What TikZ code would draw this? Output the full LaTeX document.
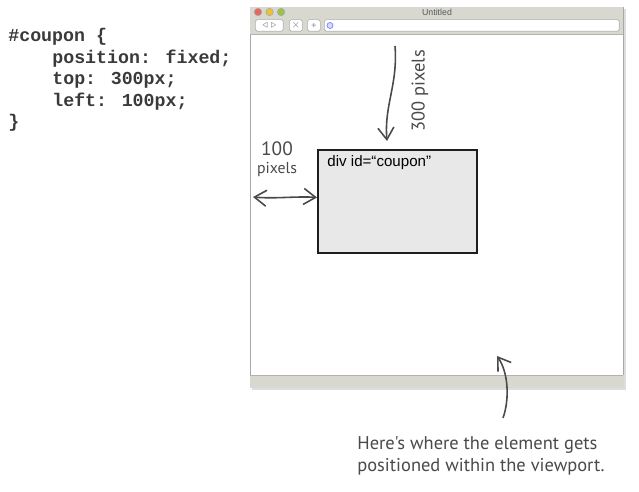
\documentclass[tikz,border=0pt]{standalone}
\usepackage{fontspec}
\setmainfont{Liberation Sans}
\newfontfamily\codefont{Liberation Mono}
\newfontfamily\handfont{PT Sans}
\usepackage{tikz}
\usetikzlibrary{positioning,arrows.meta,calc}
\definecolor{codeCol}{HTML}{3A3A3A}
\definecolor{handCol}{HTML}{4A4A4A}
\definecolor{barFill}{HTML}{D8D8D0}
\definecolor{barDraw}{HTML}{B4B4AC}
\definecolor{winDraw}{HTML}{A8A8A8}
\definecolor{shadowCol}{HTML}{DDDDDD}
\definecolor{boxFill}{HTML}{E8E8E8}
\definecolor{boxDraw}{HTML}{1E1E1E}
\definecolor{btnDraw}{HTML}{B0B0B0}
\definecolor{lightRed}{HTML}{E8675C}
\definecolor{lightYel}{HTML}{E8C33A}
\definecolor{lightGrn}{HTML}{9CC24A}

\begin{document}
\begin{tikzpicture}[
  x=0.02cm, y=-0.02cm,
  codeline/.style={anchor=base west, inner sep=0pt, text=codeCol,
                   font=\codefont\bfseries\fontsize{10.4pt}{12pt}\selectfont},
  hand/.style={text=handCol, inner sep=0pt, font=\handfont\fontsize{#1}{#1}\selectfont},
  handarr/.style={-{Straight Barb[length=2.4mm,width=3.2mm]}, line width=0.9pt, draw=handCol},
  couponbox/.style={draw=boxDraw, line width=1.1pt, fill=boxFill,
                    minimum width=3.18cm, minimum height=2.06cm, inner sep=0pt},
  btn/.style={draw=btnDraw, line width=0.4pt, fill=white, rounded corners=1pt},
  light/.style={draw=gray!70, line width=0.3pt, fill=#1},
]
\useasboundingbox[fill=white] (0,0) rectangle (639,492);

% ---- CSS code (left) ----
\node[codeline] (css1) at (8,42)    {\#coupon \{};
\node[codeline] (css2) at (52,63.5) {position: fixed;};
\node[codeline] (css3) at (52,85)   {top: 300px;};
\node[codeline] (css4) at (52,106.5){left: 100px;};
\node[codeline] (css5) at (8,128)   {\}};

% ---- Browser window ----
\fill[shadowCol] (252,9) rectangle (626,390);
\node[draw=winDraw, fill=white, line width=0.5pt, anchor=north west, inner sep=0pt,
      minimum width=7.46cm, minimum height=7.6cm] (win) at (250,7) {};
\fill[barFill] (win.north west) rectangle (623,34);
\draw[barDraw, line width=0.4pt] (250,34) -- (623,34);
\fill[barFill] (250,375) rectangle (win.south east);
\draw[barDraw, line width=0.4pt] (250,375) -- (623,375);
\node[font=\fontsize{5pt}{5pt}\selectfont, text=gray!70!black] (title) at (437,12) {Untitled};
\node[light=lightRed, circle, minimum size=0.15cm, inner sep=0pt] (red) at (258,12) {};
\node[light=lightYel, circle, minimum size=0.15cm, inner sep=0pt, right=0.07cm of red] (yel) {};
\node[light=lightGrn, circle, minimum size=0.15cm, inner sep=0pt, right=0.07cm of yel] (grn) {};
\node[btn, minimum width=0.56cm, minimum height=0.19cm, anchor=west] (navbtn) at (255,25.5) {};
\node[btn, minimum width=0.26cm, minimum height=0.19cm, anchor=west] (stopbtn) at (289,25.5) {};
\node[btn, minimum width=0.26cm, minimum height=0.19cm, anchor=west] (addbtn) at (307,25.5) {};
\node[btn, minimum width=5.9cm, minimum height=0.2cm, anchor=west] (url) at (324,25.5) {};
\node[font=\fontsize{4pt}{4pt}\selectfont, text=gray] at (navbtn) {\(\triangleleft\ \triangleright\)};
\node[font=\fontsize{5pt}{5pt}\selectfont, text=gray] at (stopbtn) {\(\times\)};
\node[font=\fontsize{5pt}{5pt}\selectfont, text=gray] at (addbtn) {+};
\node[circle, draw=blue!50, fill=blue!15, line width=0.4pt, minimum size=0.12cm, inner sep=0pt]
      (globe) at (330,25.5) {};

% ---- Fixed element ----
\node[couponbox] (coupon) at (397.5,201.5) {};
\node[anchor=north west, inner sep=0pt, font=\fontsize{8.6pt}{9pt}\selectfont]
      (divlbl) at ([shift={(10,6)}]coupon.north west) {div id=“coupon”};

% ---- 300 pixels (top offset) ----
\coordinate (t300) at (395,46);
\coordinate (b300) at (387,141);
\draw[handarr] (t300) .. controls (398,85) and (384,105) .. (b300);
\node[hand=10.5pt, rotate=90] (lbl300) at (420,91) {300 pixels};

% ---- 100 pixels (left offset) ----
\coordinate (l100) at (253,197);
\coordinate (r100) at ($(coupon.west)+(0,-4)$);
\draw[handarr, {Straight Barb[length=2.4mm,width=3.2mm]}-{Straight Barb[length=2.4mm,width=3.2mm]}]
  (l100) .. controls (275,199) and (298,196) .. (r100);
\node[hand=11pt] (lbl100) at (277,149) {100};
\node[hand=9pt, below=0.12cm of lbl100] (lblpx) {pixels};

% ---- Viewport note ----
\coordinate (tail) at (503,418);
\coordinate (tip) at (497,356);
\draw[handarr] (tail) .. controls (510,398) and (508,372) .. (tip);
\node[hand=10.5pt, anchor=north west, align=left] (note) at (357,436)
      {Here's where the element gets\\[2pt]positioned within the viewport.};

\end{tikzpicture}
\end{document}
